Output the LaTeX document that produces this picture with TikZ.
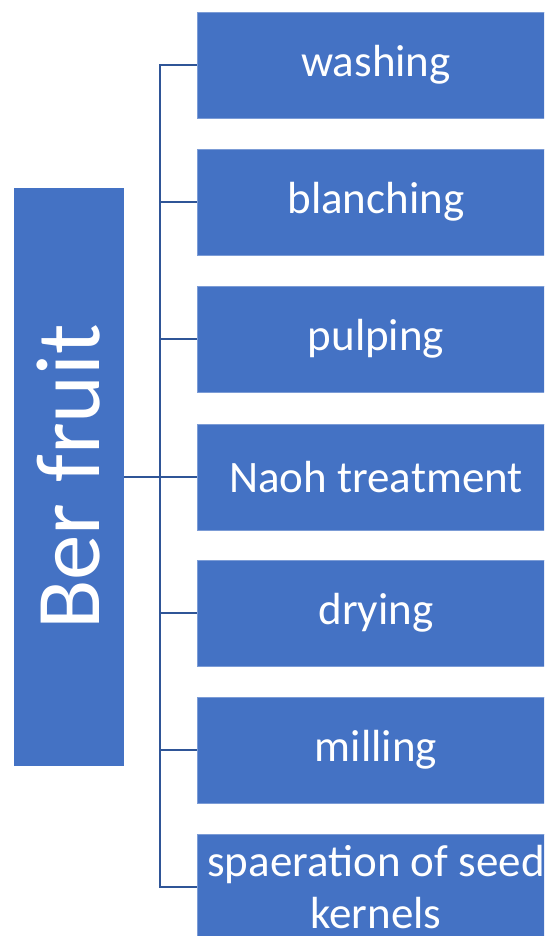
\documentclass[tikz,border=0pt]{standalone}
\usepackage{fontspec}
\setmainfont{Carlito}
\definecolor{boxblue}{HTML}{4472C4}
\definecolor{lineblue}{HTML}{2F5597}
\begin{document}
\begin{tikzpicture}[x=1pt,y=-1pt,
  stepbox/.style={fill=boxblue,draw=boxblue!70!white,line width=0.8pt,minimum width=358pt,minimum height=106pt,inner sep=0pt,text=white,font=\fontsize{45}{52}\selectfont,align=center},
  conn/.style={draw=lineblue,line width=2pt}]
\useasboundingbox (0,0) rectangle (544,936);
\clip (0,0) rectangle (544,936);
\node[fill=boxblue,minimum width=110pt,minimum height=578pt,inner sep=0pt] (root) at (69,477) {};
\node[text=white,rotate=90,font=\fontsize{91}{100}\selectfont] (rootlabel) at (69,477) {Ber fruit};
\node[stepbox] (s1) at (376,65) {washing};
\node[stepbox] (s2) at (376,202) {blanching};
\node[stepbox] (s3) at (376,339) {pulping};
\node[stepbox] (s4) at (376,477) {Naoh treatment};
\node[stepbox] (s5) at (376,613) {drying};
\node[stepbox] (s6) at (376,750) {milling};
\node[stepbox] (s7) at (376,887) {spaeration of seed\\kernels};
\coordinate (top) at (160,65);
\coordinate (bot) at (160,887);
\draw[conn] (s1.west) -- (top) -- (bot) -- (s7.west);
\draw[conn] (root.east) -- (s4.west);
\foreach \i in {2,3,5,6} {\draw[conn] (top |- s\i.west) -- (s\i.west);}
\end{tikzpicture}
\end{document}
